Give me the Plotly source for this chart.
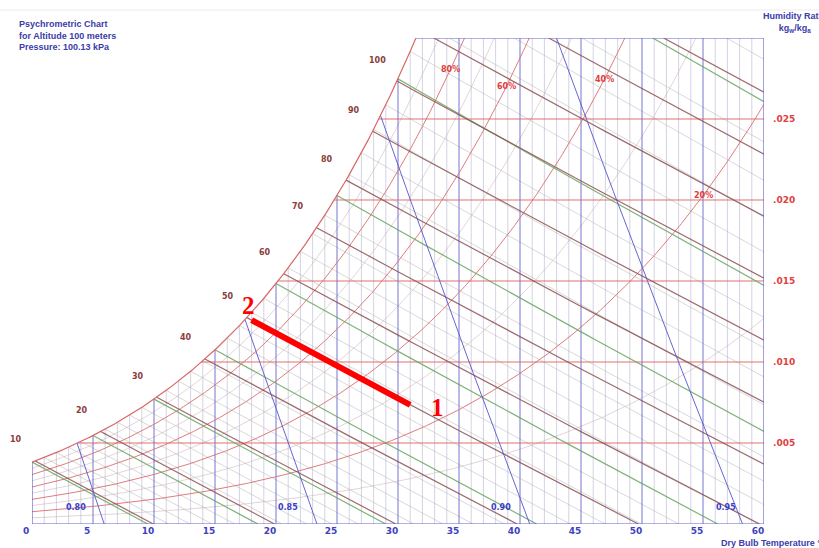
import numpy as np
import plotly.graph_objects as go

# ---- chart data -------------------------------------------------------
PRESSURE_KPA = 100.13
ALTITUDE_M = 100
T_RANGE = (0, 60)            # dry bulb, deg C
W_TOP = 0.030                # humidity ratio, kg/kg

dry_bulb_major = list(range(5, 60, 5))
dry_bulb_minor = [t for t in range(1, 60) if t % 5]
rh_major = [20, 40, 60, 80]
rh_minor = [10, 30, 50, 70, 90]
w_lines = [0.005, 0.010, 0.015, 0.020, 0.025]
enthalpy_lines = list(range(10, 150, 10))
enthalpy_labels = list(range(10, 101, 10))
wet_bulb_major = list(range(0, 40, 5))
wet_bulb_minor = [t for t in range(1, 37) if t % 5]
volume_lines = [0.80, 0.85, 0.90, 0.95]
x_ticks = list(range(0, 61, 5))

# evaporative cooling process along constant enthalpy
process_h = 50.0
process_T = {"1": 31.0, "2": 18.0}

# ---- psychrometric relations ------------------------------------------
P = PRESSURE_KPA
EPS = 0.621945


def psat(T):
    return 0.61094 * np.exp(17.625 * T / (T + 243.04))


def t_from_psat(pv):
    g = np.log(pv / 0.61094)
    return 243.04 * g / (17.625 - g)


def w_from_pv(pv):
    return EPS * pv / (P - pv)


def wsat(T):
    return w_from_pv(psat(T))


def dew_point(w):
    return t_from_psat(w * P / (EPS + w))


def h_of(T, w):
    return 1.006 * T + w * (2501 + 1.86 * T)


def bisect(f, a, b, n=80):
    fa = f(a)
    for _ in range(n):
        m = 0.5 * (a + b)
        fm = f(m)
        if (fm > 0) == (fa > 0):
            a, fa = m, fm
        else:
            b = m
    return 0.5 * (a + b)


T0, T1 = T_RANGE
T_SAT_TOP = dew_point(W_TOP)


def add_seg(xs, ys, tx, wy):
    xs.extend(list(tx) + [None])
    ys.extend(list(wy) + [None])


def rh_curve(phi):
    T = np.linspace(T0, T1, 400)
    w = w_from_pv(phi * psat(T))
    keep = w <= W_TOP
    T, w = T[keep], w[keep]
    pv_top = W_TOP * P / (EPS + W_TOP)
    t_top = t_from_psat(pv_top / phi)
    if t_top < T1:
        T = np.append(T, t_top)
        w = np.append(w, W_TOP)
    return T, w


def enthalpy_curve(h):
    t_of = lambda w: (h - 2501 * w) / (1.006 + 1.86 * w)
    w_lo = 0.0 if h / 1.006 <= T1 else (h - 1.006 * T1) / (2501 + 1.86 * T1)
    ts = bisect(lambda t: h_of(t, wsat(t)) - h, -20, 70)
    w_hi = min(wsat(ts), W_TOP)
    w = np.linspace(w_lo, w_hi, 40)
    return t_of(w), w


def wet_bulb_curve(twb):
    A = (2501 - 2.326 * twb) * wsat(twb)
    t_of = lambda w: (A + 1.006 * twb - w * (2501 - 4.186 * twb)) / (1.006 + 1.86 * w)
    w_hi = min(wsat(twb), W_TOP)
    if t_of(0.0) <= T1:
        w_lo = 0.0
    else:
        w_lo = (A - 1.006 * (T1 - twb)) / (2501 + 1.86 * T1 - 4.186 * twb)
    if w_lo >= w_hi:
        return None
    w = np.linspace(w_lo, w_hi, 40)
    return t_of(w), w


def volume_t(v, w):
    return v * P / (0.287042 * (1 + 1.607858 * w)) - 273.15


def volume_curve(v):
    ts = bisect(lambda t: t - volume_t(v, wsat(t)), -20, 70)
    w_hi = min(wsat(ts), W_TOP)
    w = np.linspace(0.0, w_hi, 20)
    return volume_t(v, w), w


# ---- build line families ------------------------------------------------
fig = go.Figure()


def family(builder, values, color, width):
    xs, ys = [], []
    for val in values:
        seg = builder(val)
        if seg is not None:
            add_seg(xs, ys, *seg)
    fig.add_trace(go.Scatter(x=xs, y=ys, mode="lines", hoverinfo="skip",
                             line=dict(color=color, width=width), showlegend=False))


def vertical(t):
    return [t, t], [0, min(wsat(t), W_TOP)]


def horizontal(w):
    return [dew_point(w), T1], [w, w]


family(vertical, dry_bulb_minor, "rgba(175,175,205,0.55)", 1)
family(wet_bulb_curve, wet_bulb_minor, "rgba(180,180,180,0.5)", 1)
family(lambda p: rh_curve(p / 100), rh_minor, "rgba(200,170,175,0.5)", 1)

family(vertical, dry_bulb_major, "rgba(95,95,200,0.85)", 1)
family(lambda p: rh_curve(p / 100), rh_major, "rgba(220,110,110,0.9)", 1)
family(horizontal, w_lines, "rgba(225,95,95,0.9)", 1)
family(wet_bulb_curve, wet_bulb_major, "rgba(105,165,95,0.85)", 1.2)
family(enthalpy_curve, enthalpy_lines, "rgba(140,80,80,0.85)", 1.2)
family(volume_curve, volume_lines, "rgba(85,85,205,0.9)", 1)

# saturation curve and chart border
Ts = np.linspace(T0, T_SAT_TOP, 200)
fig.add_trace(go.Scatter(x=Ts, y=wsat(Ts), mode="lines", hoverinfo="skip",
                         line=dict(color="rgba(215,95,95,0.95)", width=1.2), showlegend=False))
bx, by = [], []
add_seg(bx, by, [T0, T0, T1, T1, T_SAT_TOP], [wsat(T0), 0, 0, W_TOP, W_TOP])
fig.add_trace(go.Scatter(x=bx, y=by, mode="lines", hoverinfo="skip",
                         line=dict(color="rgb(100,100,205)", width=1.2), showlegend=False))

# process line 1 -> 2
pT = [process_T["1"], process_T["2"]]
pW = [(process_h - 1.006 * t) / (2501 + 1.86 * t) for t in pT]
fig.add_trace(go.Scatter(x=pT, y=pW, mode="lines", hoverinfo="skip",
                         line=dict(color="#ff0000", width=6), showlegend=False))

# ---- labels -------------------------------------------------------------
ann = []
ENTH_FONT = dict(family="DejaVu Sans", size=8, color="#8a3c3c", weight="bold")
for h in enthalpy_labels:
    ts = bisect(lambda t: h_of(t, wsat(t)) - h, -20, 70)
    ann.append(dict(x=ts, y=wsat(ts), text=str(h), showarrow=False, xshift=-19, yshift=21,
                    font=ENTH_FONT))

RH_FONT = dict(family="DejaVu Sans", size=8, color="#e03c3c", weight="bold")
rh_label_at = {80: 34.3, 60: 38.9, 40: 46.9, 20: 55.0}
for p, t in rh_label_at.items():
    ann.append(dict(x=t, y=w_from_pv(p / 100 * psat(t)), text=f"{p}%", showarrow=False,
                    font=RH_FONT))

V_FONT = dict(family="DejaVu Sans", size=8, color="#3c3cc8", weight="bold")
for v in volume_lines:
    shift = 2 if v == volume_lines[-1] else -11
    ann.append(dict(x=volume_t(v, 0.001), y=0.001, text=f"{v:.2f}", showarrow=False,
                    xanchor="right", xshift=shift, font=V_FONT))

PT_FONT = dict(family="Liberation Serif", size=25, color="#ff0000", weight="bold")
ann.append(dict(x=pT[0], y=pW[0], text="1", showarrow=False, xshift=27, yshift=-3, font=PT_FONT))
ann.append(dict(x=pT[1], y=pW[1], text="2", showarrow=False, xshift=-3, yshift=15, font=PT_FONT))

BLUE_FONT = dict(family="Liberation Sans", size=9, color="#3c3caa", weight="bold")
ann.append(dict(xref="paper", yref="paper", x=-15 / 732, y=1 + 21 / 486, xanchor="left",
                yanchor="top", align="left", showarrow=False, font=BLUE_FONT,
                text=f"Psychrometric Chart<br>for Altitude {ALTITUDE_M} meters"
                     f"<br>Pressure: {PRESSURE_KPA:.2f} kPa"))
ann.append(dict(xref="paper", yref="paper", x=729 / 732, y=1 + 29 / 486, xanchor="left",
                yanchor="top", align="center", showarrow=False, font=BLUE_FONT,
                text="Humidity Ratio<br>kg<sub>w</sub>/kg<sub>a</sub>"))
ann.append(dict(xref="paper", yref="paper", x=687 / 732, y=-19 / 486, xanchor="left",
                yanchor="middle", showarrow=False, font=BLUE_FONT,
                text="Dry Bulb Temperature °C"))

fig.update_layout(
    width=819, height=548,
    margin=dict(l=32, r=55, t=38, b=24),
    paper_bgcolor="white", plot_bgcolor="white",
    annotations=ann,
    shapes=[dict(type="line", xref="paper", yref="paper", x0=-0.05, x1=1.1,
                 y0=1 + 28 / 486, y1=1 + 28 / 486, line=dict(color="#ececec", width=1))],
    xaxis=dict(range=list(T_RANGE), showgrid=False, zeroline=False, showline=False,
               tickvals=x_ticks, ticktext=[str(t) for t in x_ticks], ticklabelshift=-6,
               tickfont=dict(family="DejaVu Sans", size=9, color="#4040c0", weight="bold"),
               fixedrange=True),
    yaxis=dict(range=[0, W_TOP], side="right", showgrid=False, zeroline=False, showline=False,
               tickvals=w_lines, ticktext=[f"{w:.3f}".lstrip("0") for w in w_lines],
               ticklabelstandoff=8,
               tickfont=dict(family="DejaVu Sans", size=9, color="#e04040", weight="bold"),
               fixedrange=True),
)

fig.write_html("out.html")
